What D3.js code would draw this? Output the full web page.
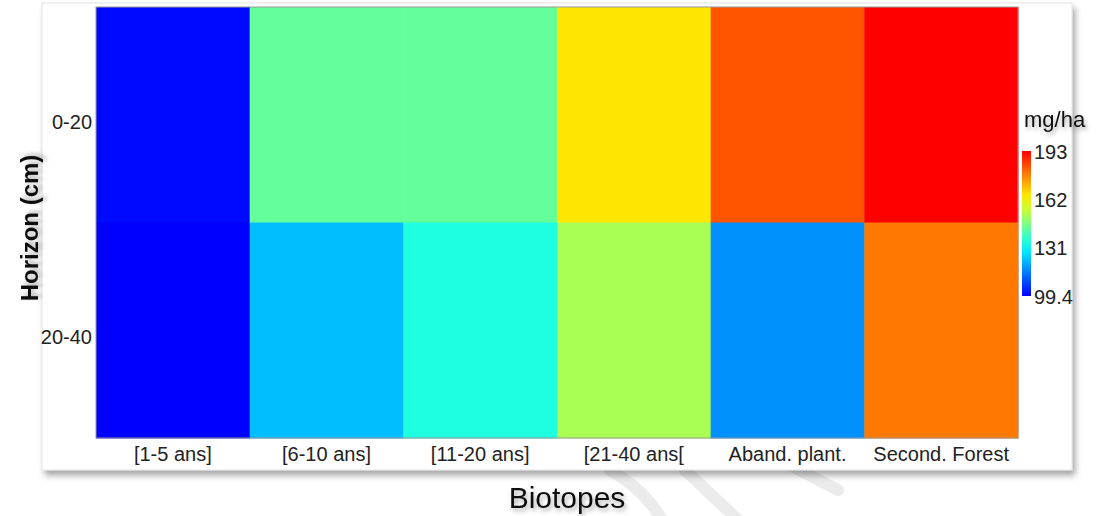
<!DOCTYPE html>
<html>
<head>
<meta charset="utf-8">
<script src="https://cdn.jsdelivr.net/npm/d3@7"></script>
<style>
  body { margin: 0; background: #fff; }
  text { font-family: "Liberation Sans", Arial, sans-serif; }
</style>
</head>
<body>
<svg id="chart" width="1096" height="516"></svg>
<script>
// data
const biotopes = ["[1-5 ans]", "[6-10 ans]", "[11-20 ans]", "[21-40 ans[", "Aband. plant.", "Second. Forest"];
const horizons = ["0-20", "20-40"];
const top020 = [100.5, 142.8, 142.8, 164.9, 182.6, 193];
const top2040 = [99.4, 122.6, 134.3, 151.4, 117.2, 178.3];
const cbTicks = [99.4, 131, 162, 193];
const vMin = 99.4, vMax = 193;

let svg = d3.select("#chart");
let defs = svg.append("defs");

let shadow = defs.append("filter").attr("id", "shadow")
    .attr("x", "-5%").attr("y", "-5%").attr("width", "110%").attr("height", "115%");
shadow.append("feDropShadow")
    .attr("dx", 3).attr("dy", 5).attr("stdDeviation", 3)
    .attr("flood-color", "#000").attr("flood-opacity", 0.35);

let tshadow = defs.append("filter").attr("id", "tshadow")
    .attr("x", "-20%").attr("y", "-30%").attr("width", "140%").attr("height", "170%");
tshadow.append("feDropShadow")
    .attr("dx", 2).attr("dy", 3).attr("stdDeviation", 2)
    .attr("flood-color", "#000").attr("flood-opacity", 0.3);

// faint watermark strokes behind the panel
let wm = svg.append("g").attr("fill", "none").attr("stroke", "#ebebeb")
    .attr("stroke-width", 12).attr("stroke-linecap", "round");
wm.append("path").attr("d", "M610,470 Q645,490 662,520");
wm.append("path").attr("d", "M685,470 L738,520");
wm.append("path").attr("d", "M780,460 L838,490");

// white panel
svg.append("rect")
    .attr("x", 42).attr("y", 3).attr("width", 1030).attr("height", 467)
    .attr("fill", "#fff").attr("stroke", "#ddd").attr("stroke-width", 0.8)
    .attr("filter", "url(#shadow)");

let margin = { left: 96, right: 1018, top: 7, bottom: 438 };

let x = d3.scaleBand().domain(biotopes).range([margin.left, margin.right]);
let y = d3.scaleBand().domain(horizons).range([margin.top, margin.bottom]);

let color = d3.scaleLinear()
    .domain([vMin, vMin + (vMax - vMin) / 3, vMin + 2 * (vMax - vMin) / 3, vMax])
    .range(["#0000ff", "#00ffff", "#ffff00", "#ff0000"]);

let cells = [];
biotopes.forEach((b, i) => {
    cells.push({ b, h: horizons[0], v: top020[i] });
    cells.push({ b, h: horizons[1], v: top2040[i] });
});

svg.append("g").selectAll("rect")
    .data(cells)
    .join("rect")
    .attr("x", d => x(d.b))
    .attr("y", d => y(d.h))
    .attr("width", x.bandwidth() + 0.5)
    .attr("height", y.bandwidth() + 0.5)
    .attr("fill", d => color(d.v));

svg.append("rect")
    .attr("x", margin.left).attr("y", margin.top)
    .attr("width", margin.right - margin.left).attr("height", margin.bottom - margin.top)
    .attr("fill", "none").attr("stroke", "#999").attr("stroke-width", 1);

// axes labels
svg.append("g").selectAll("text")
    .data(biotopes)
    .join("text")
    .attr("x", d => x(d) + x.bandwidth() / 2)
    .attr("y", 461)
    .attr("text-anchor", "middle")
    .attr("font-size", 20)
    .attr("fill", "#222")
    .text(d => d);

svg.append("g").selectAll("text")
    .data(horizons)
    .join("text")
    .attr("x", 92)
    .attr("y", d => y(d) + y.bandwidth() / 2 + 14)
    .attr("text-anchor", "end")
    .attr("font-size", 20)
    .attr("fill", "#222")
    .text(d => d);

svg.append("text")
    .attr("transform", "translate(38,228) rotate(-90)")
    .attr("text-anchor", "middle")
    .attr("font-size", 24)
    .attr("font-weight", "bold")
    .attr("fill", "#111")
    .attr("filter", "url(#tshadow)")
    .text("Horizon (cm)");

svg.append("text")
    .attr("x", 567).attr("y", 508)
    .attr("text-anchor", "middle")
    .attr("font-size", 30)
    .attr("fill", "#111")
    .attr("filter", "url(#tshadow)")
    .text("Biotopes");

// colorbar
let cb = { x: 1022, w: 9, top: 151, bottom: 296 };
let cy = d3.scaleLinear().domain([vMin, vMax]).range([cb.bottom, cb.top]);

let grad = defs.append("linearGradient").attr("id", "cbgrad")
    .attr("x1", 0).attr("y1", 1).attr("x2", 0).attr("y2", 0);
d3.range(0, 1.0001, 0.1).forEach(t => {
    grad.append("stop")
        .attr("offset", t)
        .attr("stop-color", color(vMin + t * (vMax - vMin)));
});

svg.append("rect")
    .attr("x", cb.x).attr("y", cb.top)
    .attr("width", cb.w).attr("height", cb.bottom - cb.top)
    .attr("fill", "url(#cbgrad)");

svg.append("g").selectAll("text")
    .data(cbTicks)
    .join("text")
    .attr("x", cb.x + cb.w + 3)
    .attr("y", d => cy(d) + 8)
    .attr("font-size", 20)
    .attr("fill", "#222")
    .text(d => d);

svg.append("text")
    .attr("x", 1024).attr("y", 127)
    .attr("font-size", 22)
    .attr("fill", "#111")
    .attr("filter", "url(#tshadow)")
    .text("mg/ha");
</script>
</body>
</html>
